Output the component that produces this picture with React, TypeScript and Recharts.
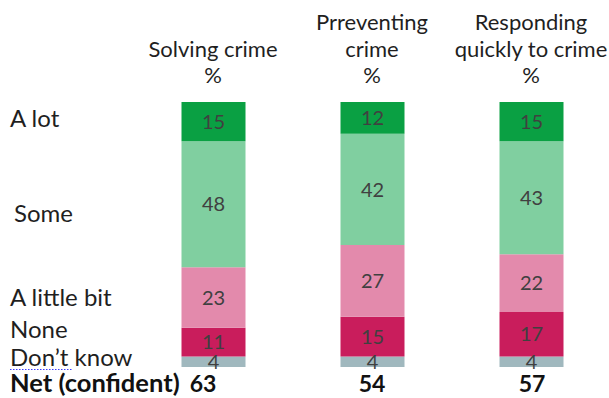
import React from "react";
import { BarChart, Bar, XAxis, YAxis, LabelList } from "recharts";

const categories = ["Solving crime", "Prreventing crime", "Responding quickly to crime"];
const headerLines = [["Solving crime", "%"], ["Prreventing", "crime", "%"], ["Responding", "quickly to crime", "%"]];
const aLot = [15, 12, 15];
const some = [48, 42, 43];
const aLittleBit = [23, 27, 22];
const none = [11, 15, 17];
const dontKnow = [4, 4, 4];
const netConfident = [63, 54, 57];
const rowLabels = ["A lot", "Some", "A little bit", "None", "Don\u2019t know"];

const data = categories.map((c, i) => ({
  cat: c,
  net: String(netConfident[i]),
  alot: aLot[i],
  some: some[i],
  little: aLittleBit[i],
  none: none[i],
  dk: dontKnow[i],
}));

const FONT = "Lato, 'Noto Sans', sans-serif";
const TXT = "#1f1f1f";
const VAL = "#404040";

const HeaderTick = (props: any) => {
  const { x, payload, index } = props;
  const lines = headerLines[index] || [payload.value];
  const baselines = [83, 57, 30];
  const n = lines.length;
  return (
    <g>
      {lines.map((l: string, k: number) => (
        <text key={k} x={x} y={baselines[n - 1 - k]} textAnchor="middle" fontFamily={FONT} fontSize={22} fill={TXT}>
          {l}
        </text>
      ))}
    </g>
  );
};

const netDx = [-10, 0, 1];
const NetTick = (props: any) => {
  const { x, payload, index } = props;
  return (
    <text x={x + (netDx[index] || 0)} y={392} textAnchor="middle" fontFamily={FONT} fontSize={23} fontWeight={700} fill="#111">
      {payload.value}
    </text>
  );
};

const rowBaselines = [127, 222, 306, 338, 366];
const rowX = [10, 14, 10, 10, 10];

export default function App() {
  const seg = (key: string, color: string) => (
    <Bar dataKey={key} stackId="s" xAxisId="cat" fill={color} isAnimationActive={false}>
      <LabelList dataKey={key} position="center" fill={VAL} fontSize={20} fontFamily={FONT} />
    </Bar>
  );
  return (
    <div style={{ position: "absolute", left: 0, top: 0, width: 609, height: 398, overflow: "hidden", background: "#fff" }}>
      <svg width={609} height={398} style={{ position: "absolute", left: 0, top: 0 }}>
        {rowLabels.map((l, i) => (
          <text key={l} x={rowX[i]} y={rowBaselines[i]} fontFamily={FONT} fontSize={24} fill={TXT}>
            {l}
          </text>
        ))}
        <line x1={10} x2={72} y1={369.5} y2={369.5} stroke="#3a3aff" strokeWidth={1} strokeDasharray="1.5 1.5" />
        <text x={10} y={392} fontFamily={FONT} fontSize={25.5} fontWeight={700} fill="#111">
          Net (confident)
        </text>
      </svg>
      <div style={{ position: "absolute", left: 0, top: 0 }}>
        <BarChart
          width={620}
          height={398}
          data={data}
          stackOffset="expand"
          barSize={64}
          margin={{ top: 42, bottom: 0, left: 133.5, right: 9.5 }}
        >
          <XAxis xAxisId="cat" dataKey="cat" orientation="top" height={60} axisLine={false} tickLine={false} tick={<HeaderTick />} interval={0} />
          <XAxis xAxisId="net" dataKey="net" orientation="bottom" height={31} axisLine={false} tickLine={false} tick={<NetTick />} interval={0} />
          <YAxis hide domain={[0, 1]} />
          {seg("dk", "#a0b8be")}
          {seg("none", "#c91d5c")}
          {seg("little", "#e38aac")}
          {seg("some", "#80cfa0")}
          {seg("alot", "#0aa043")}
        </BarChart>
      </div>
    </div>
  );
}
